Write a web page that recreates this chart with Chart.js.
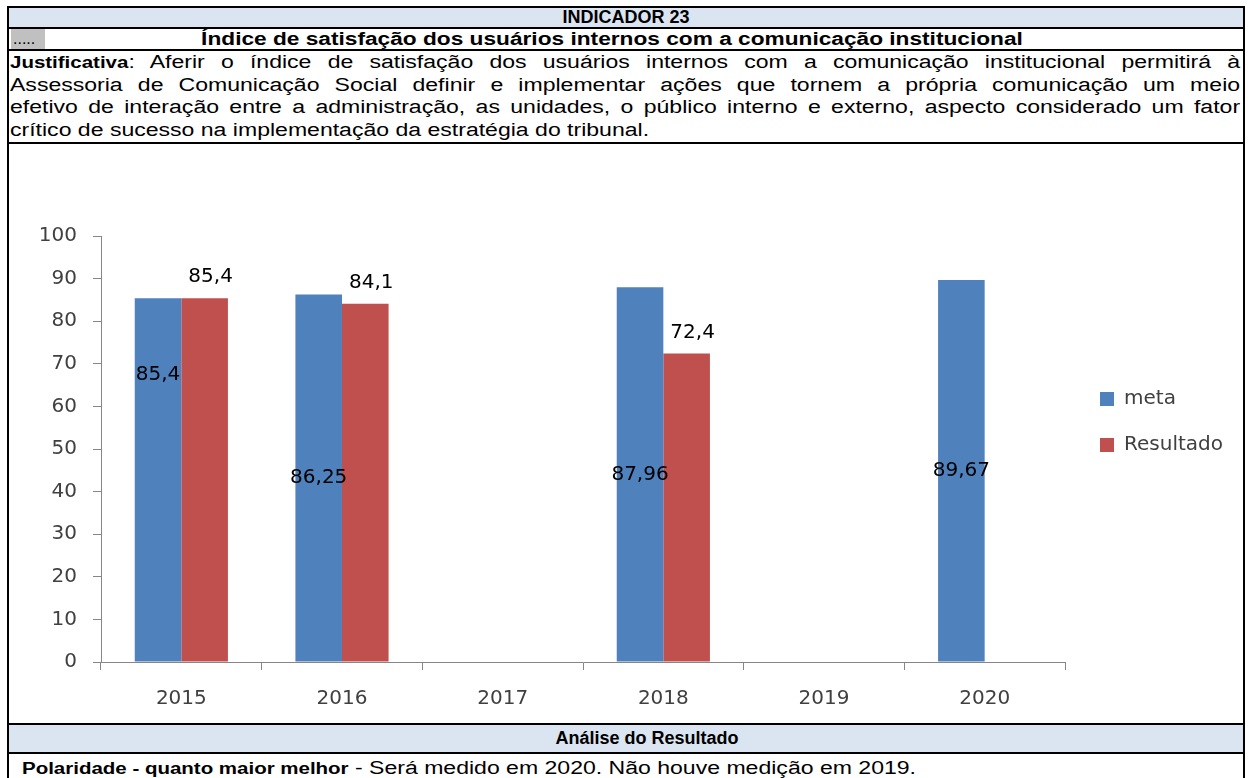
<!DOCTYPE html>
<html lang="pt-BR">
<head>
<meta charset="utf-8">
<title>Indicador 23</title>
<script src="https://cdn.jsdelivr.net/npm/chart.js@4.4.1/dist/chart.umd.min.js"></script>
<style>
    html, body { margin: 0; padding: 0; background: #fff; }
    body {
        width: 1252px; height: 778px; overflow: hidden; position: relative;
        font-family: "Liberation Sans", Arial, sans-serif; font-size: 18px; color: #000;
    }
    .frame {
        position: absolute; left: 7px; top: 6px; width: 1234px; height: 800px;
        border: 2px solid #000; border-bottom: none;
    }
    .row { position: absolute; left: 0; width: 1234px; }
    .sep { position: absolute; left: 0; width: 1234px; height: 2px; background: #000; }
    .azul { background: #dbe5f1; }
    .centro { text-align: center; font-weight: bold; font-size: 18px; }
    b { font-size: 16px; }
    .pontos {
        position: absolute; left: 2px; top: 0; width: 32px; height: 20px;
        background: #c0c0c0; line-height: 20px; font-size: 16px; padding-left: 2px;
    }
    /* o texto do documento original é mais largo que alto */
    .largo { transform: scaleX(1.28); transform-origin: 0 50%; white-space: nowrap; }
    .just { position: absolute; left: 1px; width: 961px; height: 23px; line-height: 23px; }
    .just.cheia { text-align: justify; text-align-last: justify; }
    #grafico { position: absolute; left: 0; top: 136px; }
</style>
</head>
<body>
<div class="frame">
    <div class="row azul centro" style="top:0;height:19px;line-height:19px;">INDICADOR 23</div>
    <div class="sep" style="top:19px;"></div>

    <div class="row" style="top:21px;height:20px;">
        <div class="pontos">.....</div>
        <div class="centro" style="position:absolute;left:0;width:1206px;line-height:20px;transform:scaleX(1.26);">Índice de satisfação dos usuários internos com a comunicação institucional</div>
    </div>
    <div class="sep" style="top:41px;"></div>

    <div class="just cheia largo" style="top:43px;"><b>Justificativa</b>: Aferir o índice de satisfação dos usuários internos com a comunicação institucional permitirá à</div>
    <div class="just cheia largo" style="top:66px;">Assessoria de Comunicação Social definir e implementar ações que tornem a própria comunicação um meio</div>
    <div class="just cheia largo" style="top:88px;">efetivo de interação entre a administração, as unidades, o público interno e externo, aspecto considerado um fator</div>
    <div class="just largo" style="top:111px;">crítico de sucesso na implementação da estratégia do tribunal.</div>
    <div class="sep" style="top:134px;"></div>

    <canvas id="grafico" width="1234" height="579"></canvas>
    <div class="sep" style="top:715px;"></div>

    <div class="row azul centro" style="top:717px;height:27px;line-height:27px;padding-left:42px;box-sizing:border-box;">Análise do Resultado</div>
    <div class="sep" style="top:744px;"></div>

    <div class="largo" style="position:absolute;top:746px;left:13px;width:950px;height:28px;line-height:28px;"><b>Polaridade - quanto maior melhor</b> - Será medido em 2020. Não houve medição em 2019.</div>
</div>

<script>
// dados do indicador
const categorias = ['2015', '2016', '2017', '2018', '2019', '2020'];
const meta = [85.4, 86.25, null, 87.96, null, 89.67];
const resultado = [85.4, 84.1, null, 72.4, null, null];
const nomesSeries = ['meta', 'Resultado'];
const eixoY = { min: 0, max: 100, passo: 10 };

const fonteGrafico = '"DejaVu Sans", Verdana, sans-serif';
const corEixo = '#868686';

// rótulos de valor (sem plugin externo)
const rotulos = {
    id: 'rotulos',
    afterDatasetsDraw(chart) {
        const ctx = chart.ctx;
        const y = chart.scales.y;
        ctx.save();
        ctx.font = '20px ' + fonteGrafico;
        ctx.fillStyle = '#000';
        ctx.textAlign = 'center';
        ctx.textBaseline = 'middle';
        chart.data.datasets.forEach((ds, i) => {
            chart.getDatasetMeta(i).data.forEach((bar, j) => {
                const v = ds.data[j];
                if (v === null) return;
                const txt = String(v).replace('.', ',');
                if (i === 0) {
                    // meta: no meio da barra (2015 ficou mais alto no original)
                    const pos = j === 0 ? 67.4 : v / 2;
                    ctx.fillText(txt, bar.x, y.getPixelForValue(pos));
                } else {
                    ctx.fillText(txt, bar.x + 6, bar.y - 21);
                }
            });
        });
        ctx.restore();
    }
};

// afasta a legenda do eixo como no Excel
const moveLegenda = {
    id: 'moveLegenda',
    afterLayout(chart) {
        const lg = chart.legend;
        lg.left += 9;
        lg.right += 69;
        lg.top -= 27;
        lg.bottom -= 27;
    }
};

const config = {
    type: 'bar',
    data: {
        labels: categorias,
        datasets: [
            { label: nomesSeries[0], data: meta, backgroundColor: '#4f81bd' },
            { label: nomesSeries[1], data: resultado, backgroundColor: '#c0504d' }
        ]
    },
    options: {
        responsive: false,
        animation: false,
        devicePixelRatio: 1,
        categoryPercentage: 0.58,
        barPercentage: 1,
        layout: { padding: { top: 92, bottom: 11, left: 0, right: 28 } },
        plugins: {
            tooltip: { enabled: false },
            legend: {
                position: 'right',
                fullSize: false,
                maxWidth: 150,
                labels: {
                    boxWidth: 14,
                    boxHeight: 14,
                    padding: 26,
                    color: '#404040',
                    font: { family: fonteGrafico, size: 20 }
                }
            }
        },
        scales: {
            x: {
                afterFit(scale) { scale.height = 50; },
                grid: { drawOnChartArea: false, drawTicks: true, tickLength: 8, color: corEixo },
                border: { color: corEixo },
                ticks: { color: '#404040', padding: 17, font: { family: fonteGrafico, size: 20 } }
            },
            y: {
                min: eixoY.min,
                max: eixoY.max,
                afterFit(scale) { scale.width = 92; },
                grid: { drawOnChartArea: false, drawTicks: true, tickLength: 8, color: corEixo },
                border: { color: corEixo },
                ticks: { stepSize: eixoY.passo, color: '#404040', padding: 16, font: { family: fonteGrafico, size: 20 } }
            }
        }
    },
    plugins: [rotulos, moveLegenda]
};

const grafico = new Chart(document.getElementById('grafico'), config);
</script>
</body>
</html>
